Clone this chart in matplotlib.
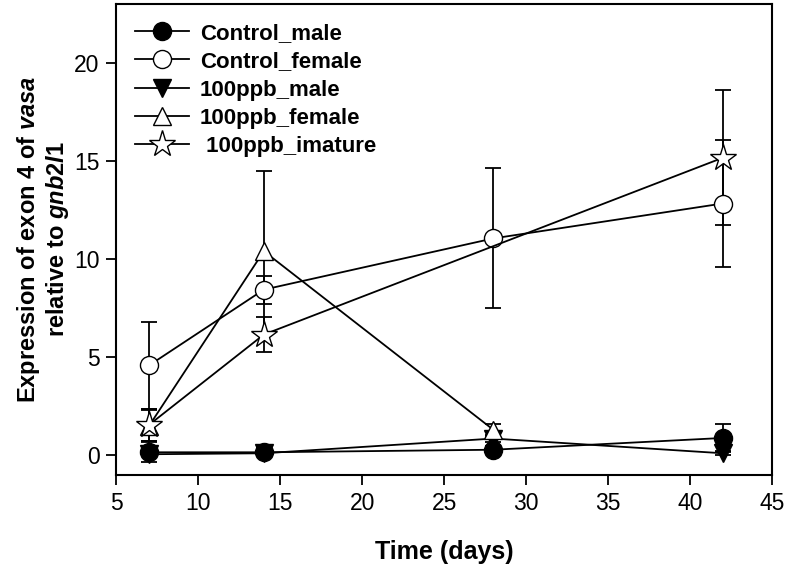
import matplotlib
matplotlib.use("Agg")
import matplotlib.pyplot as plt

plt.rcParams['font.family'] = ['Liberation Sans', 'DejaVu Sans']
plt.rcParams['mathtext.fontset'] = 'custom'
plt.rcParams['mathtext.it'] = 'Liberation Sans:italic:bold'
plt.rcParams['mathtext.rm'] = 'Liberation Sans:bold'

# Data
days = [7, 14, 28, 42]
control_male = [0.15, 0.15, 0.28, 0.88]
control_male_err = [0.5, 0.2, 0.2, 0.7]
control_female = [4.58, 8.44, 11.05, 12.83]
control_female_err = [2.2, 0.72, 3.57, 3.23]
ppb_male = [0.05, 0.1, 0.85, 0.1]
ppb_male_err = [0.1, 0.1, 0.2, 0.1]
ppb_female_days = [7, 14, 28]
ppb_female = [1.5, 10.4, 1.3]
ppb_female_err = [0.8, 4.1, 0.3]
immature_days = [7, 14, 42]
immature = [1.55, 6.15, 15.16]
immature_err = [0.8, 0.9, 3.45]

x_ticks = [5, 10, 15, 20, 25, 30, 35, 40, 45]
y_ticks = [0, 5, 10, 15, 20]

fig = plt.figure(figsize=(7.86, 5.68), dpi=100)
ax = fig.add_axes([0.148, 0.164, 0.834, 0.829])

series = [
    (days, control_male, control_male_err, 'o', 'black', 13, 'Control_male'),
    (days, control_female, control_female_err, 'o', 'white', 13, 'Control_female'),
    (days, ppb_male, ppb_male_err, 'v', 'black', 13, '100ppb_male'),
    (ppb_female_days, ppb_female, ppb_female_err, '^', 'white', 13, '100ppb_female'),
    (immature_days, immature, immature_err, '*', 'white', 20, ' 100ppb_imature'),
]

for xs, ys, es, m, fc, ms, lab in series:
    ax.errorbar(xs, ys, yerr=es, fmt='none', ecolor='black', elinewidth=1.3,
                capsize=6, capthick=1.3, zorder=2)
    ax.plot(xs, ys, color='black', lw=1.3, marker=m, markersize=ms,
            markerfacecolor=fc, markeredgecolor='black', markeredgewidth=1.0,
            label=lab, zorder=3)

ax.set_xlim(5, 45)
ax.set_ylim(-1, 23)
ax.set_xticks(x_ticks)
ax.set_yticks(y_ticks)
ax.tick_params(direction='out', length=7, width=1.3, labelsize=16.5, pad=5)
for sp in ax.spines.values():
    sp.set_linewidth(1.5)

ax.set_xlabel('Time (days)', fontsize=18, fontweight='bold', labelpad=18)
ax.set_ylabel('Expression of exon 4 of $\\mathit{vasa}$\nrelative to $\\mathit{gnb2l1}$',
              fontsize=17, fontweight='bold', labelpad=2, linespacing=1.1)

leg = ax.legend(loc='upper left', frameon=False, handlelength=2.4,
                handletextpad=0.5, labelspacing=0.33, borderaxespad=0.45,
                borderpad=0.4, prop={'weight': 'bold', 'size': 16})

fig.savefig('out.png', dpi=100)
